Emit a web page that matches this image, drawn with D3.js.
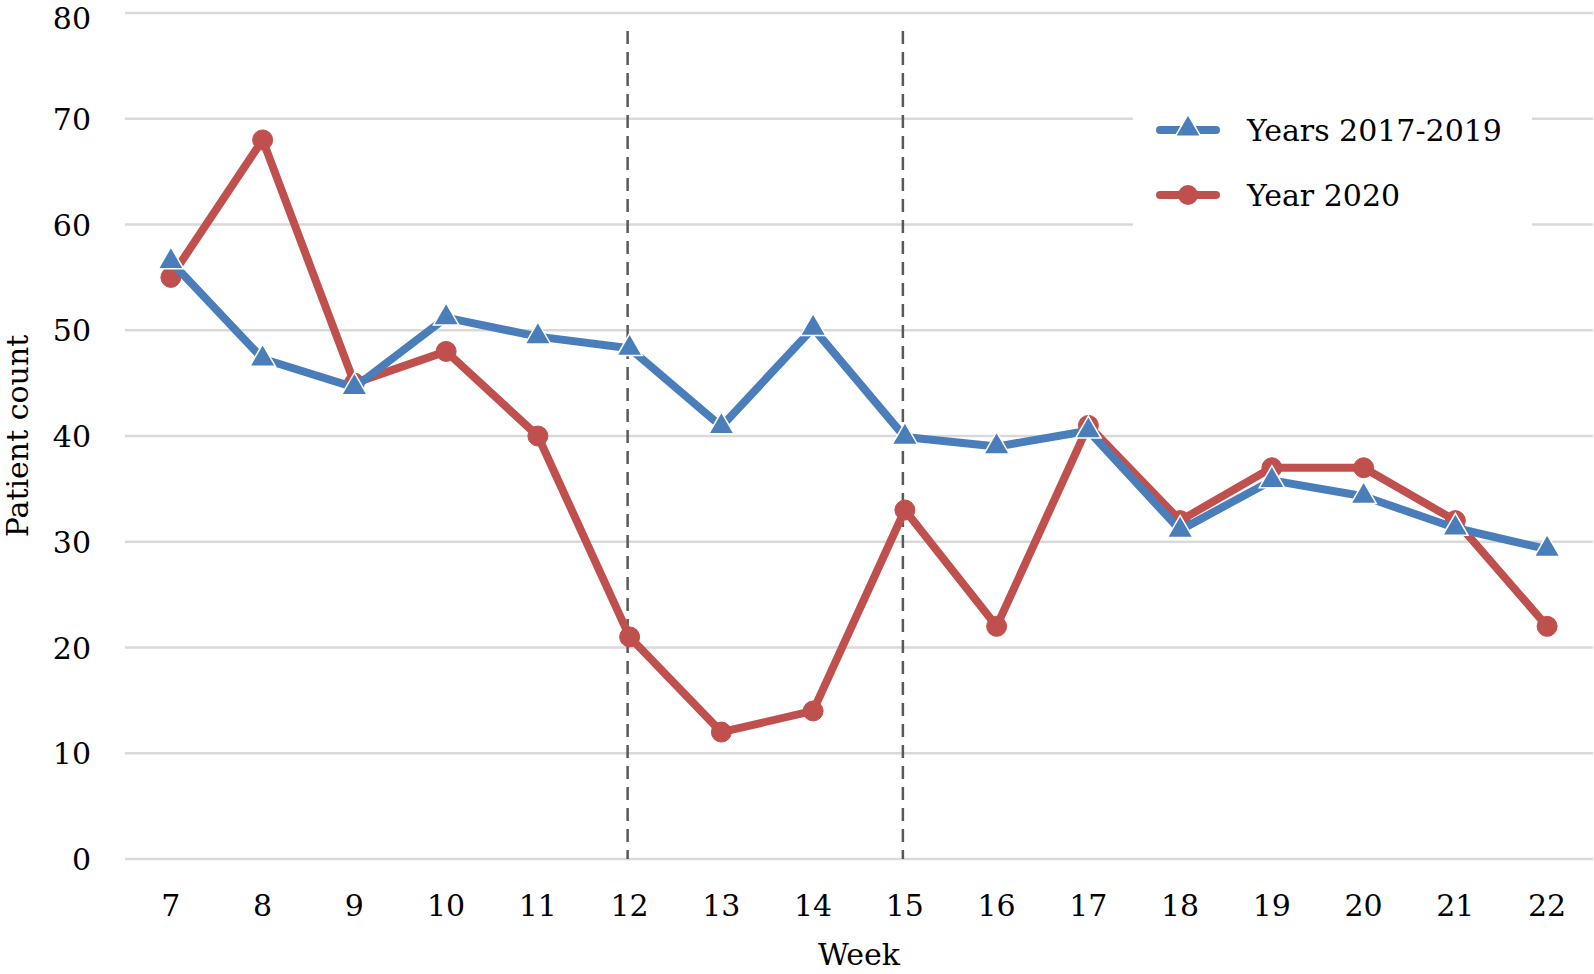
<!DOCTYPE html>
<html>
<head>
<meta charset="utf-8">
<script src="https://cdn.jsdelivr.net/npm/d3@7"></script>
<style>
  html, body { margin: 0; padding: 0; background: #fff; }
  svg { display: block; }
  text { font-family: "DejaVu Serif", serif; fill: #000; }
</style>
</head>
<body>
<svg id="chart" width="1594" height="974"></svg>
<script>
const weeks = [7, 8, 9, 10, 11, 12, 13, 14, 15, 16, 17, 18, 19, 20, 21, 22];
const years2017_2019 = [56.5, 47.3, 44.6, 51.2, 49.4, 48.3, 40.9, 50.2, 39.9, 39.0, 40.5, 31.1, 35.8, 34.3, 31.3, 29.3];
const year2020 = [55, 68, 45, 48, 40, 21, 12, 14, 33, 22, 41, 32, 37, 37, 32, 22];
const yTicks = [0, 10, 20, 30, 40, 50, 60, 70, 80];
const markerWeeks = [12, 15];
const seriesNames = ["Years 2017-2019", "Year 2020"];

const plotL = 125, plotR = 1593, plotT = 13, plotB = 859;
const blue = "#4A7EBB", red = "#C0504D";

const svg = d3.select("#chart");

const x = d3.scaleBand().domain(weeks).range([plotL, plotR]).paddingInner(0).paddingOuter(0);
const cx = d => x(d) + x.bandwidth() / 2;
const y = d3.scaleLinear().domain([0, 80]).range([plotB, plotT]);

// gridlines
svg.append("g").selectAll("line").data(yTicks).join("line")
  .attr("x1", plotL).attr("x2", plotR)
  .attr("y1", d => y(d)).attr("y2", d => y(d))
  .attr("stroke", "#D9D9D9").attr("stroke-width", 2.5);

// y axis labels
const yAxis = d3.axisLeft(y).tickValues(yTicks).tickSize(0).tickPadding(0).tickFormat(d3.format("d"));
const gy = svg.append("g").attr("transform", `translate(${91},0)`).call(yAxis);
gy.select(".domain").remove();
gy.selectAll("text").attr("font-family", "DejaVu Serif").attr("font-size", 30).attr("fill", "#000").attr("dy", "0.35em");
gy.selectAll(".tick").filter(d => d === 80).select("text").attr("dy", "0.5em");

// x axis labels
const xAxis = d3.axisBottom(x).tickSize(0).tickPadding(0);
const gx = svg.append("g").attr("transform", `translate(0,${905})`).call(xAxis);
gx.select(".domain").remove();
gx.selectAll("text").attr("font-family", "DejaVu Serif").attr("font-size", 30).attr("fill", "#000").attr("dy", "0.35em");

// axis titles
svg.append("text").attr("x", (plotL + plotR) / 2).attr("y", 954).attr("dy", "0.35em")
  .attr("text-anchor", "middle").attr("font-size", 30).text("Week");
svg.append("text").attr("transform", `translate(17,${(plotT + plotB) / 2}) rotate(-90)`)
  .attr("dy", "0.35em").attr("text-anchor", "middle").attr("font-size", 30).text("Patient count");

// dashed vertical lines
svg.append("g").selectAll("line").data(markerWeeks).join("line")
  .attr("x1", d => cx(d) - 2).attr("x2", d => cx(d) - 2)
  .attr("y1", 31).attr("y2", plotB)
  .attr("stroke", "#595959").attr("stroke-width", 2.5)
  .attr("stroke-dasharray", "13,8");

const line = d3.line().x((d, i) => cx(weeks[i])).y(d => y(d));

// Year 2020 (red)
svg.append("path").datum(year2020).attr("d", line)
  .attr("fill", "none").attr("stroke", red).attr("stroke-width", 8).attr("stroke-linejoin", "round");
svg.append("g").selectAll("circle").data(year2020).join("circle")
  .attr("cx", (d, i) => cx(weeks[i])).attr("cy", d => y(d)).attr("r", 10)
  .attr("fill", red).attr("stroke", red).attr("stroke-width", 1);

// Years 2017-2019 (blue)
const tri = d3.symbol().type(d3.symbolTriangle).size(280);
svg.append("path").datum(years2017_2019).attr("d", line)
  .attr("fill", "none").attr("stroke", blue).attr("stroke-width", 8).attr("stroke-linejoin", "round");
svg.append("g").selectAll("path").data(years2017_2019).join("path")
  .attr("d", tri)
  .attr("transform", (d, i) => `translate(${cx(weeks[i])},${y(d)})`)
  .attr("fill", blue).attr("stroke", "#fff").attr("stroke-width", 1.5);

// legend
const lg = svg.append("g");
lg.append("rect").attr("x", 1133).attr("y", 96).attr("width", 399).attr("height", 136).attr("fill", "#fff");
const items = [
  { name: seriesNames[0], color: blue, type: "tri", cy: 130 },
  { name: seriesNames[1], color: red, type: "circle", cy: 195 }
];
items.forEach(it => {
  lg.append("line").attr("x1", 1160).attr("x2", 1216).attr("y1", it.cy).attr("y2", it.cy)
    .attr("stroke", it.color).attr("stroke-width", 8).attr("stroke-linecap", "round");
  if (it.type === "tri") {
    lg.append("path").attr("d", tri).attr("transform", `translate(1188,${it.cy - 1})`)
      .attr("fill", it.color).attr("stroke", "#fff").attr("stroke-width", 1.5);
  } else {
    lg.append("circle").attr("cx", 1188).attr("cy", it.cy).attr("r", 10).attr("fill", it.color);
  }
  lg.append("text").attr("x", 1247).attr("y", it.cy).attr("dy", "0.35em")
    .attr("font-size", 30).text(it.name);
});
</script>
</body>
</html>
